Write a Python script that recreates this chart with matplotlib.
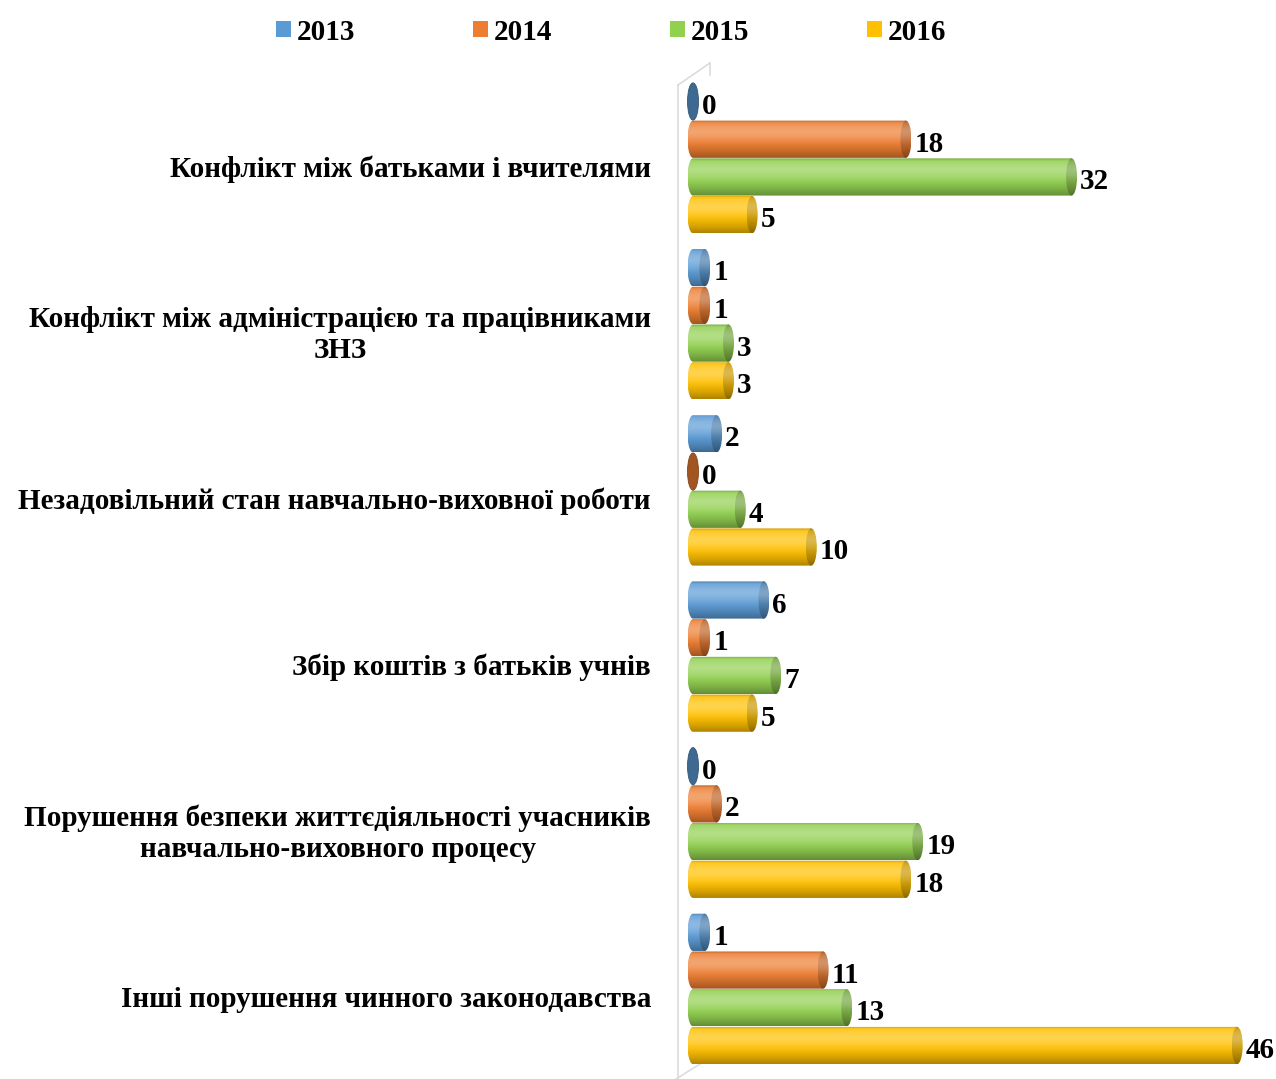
import numpy as np
import matplotlib
matplotlib.use("Agg")
import matplotlib.pyplot as plt
from matplotlib.patches import Ellipse, PathPatch, Rectangle
from matplotlib.path import Path
from matplotlib.lines import Line2D
from matplotlib.colors import to_rgb

plt.rcParams['font.family'] = ['Liberation Serif', 'DejaVu Serif']
plt.rcParams['font.weight'] = 'bold'

categories = [
    "Конфлікт між батьками і вчителями",
    "Конфлікт між адміністрацією та працівниками\nЗНЗ",
    "Незадовільний стан навчально-виховної роботи",
    "Збір коштів з батьків учнів",
    "Порушення безпеки життєдіяльності учасників\nнавчально-виховного процесу",
    "Інші порушення чинного законодавства",
]
years = ["2013", "2014", "2015", "2016"]
v2013 = [0, 1, 2, 6, 0, 1]
v2014 = [18, 1, 0, 1, 2, 11]
v2015 = [32, 3, 4, 7, 19, 13]
v2016 = [5, 3, 10, 5, 18, 46]
series = [v2013, v2014, v2015, v2016]
colors = ["#5b9bd5", "#ed7d31", "#92d050", "#ffc000"]

W, H = 1276, 1079
PX = 11.83          # pixels per unit along the value axis
fig = plt.figure(figsize=(W / 100, H / 100), dpi=100)
ax = fig.add_axes([680 / W, 7 / H, (W - 680) / W, 997 / H])
ax.set_xlim(-13 / PX, (W - 693) / PX)
ax.set_ylim(5.5, -0.5)
ax.axis('off')

pitch = 0.227
bh = 0.224
cap = 5.5 / PX  # half-width of the cylinder end in data units
FS = 21


def shade(c, t):
    """Colour across the cylinder: t=0 top edge, t=1 bottom edge."""
    c = np.array(to_rgb(c))[None, :]
    t = np.asarray(t)[:, None]
    light = np.exp(-((t - 0.3) / 0.25) ** 2) * 0.3
    dark = np.clip((t - 0.5) / 0.5, 0, 1) ** 1.6 * 0.32 + np.clip((0.07 - t) / 0.07, 0, 1) * 0.2
    out = c * (1 - dark) + (1 - c) * light * (1 - dark)
    return np.clip(out, 0, 1)


def cylinder(ax, v, yc, color):
    y0, y1 = yc - bh / 2, yc + bh / 2
    cap_c = np.array(to_rgb(color)) * 0.8
    if v <= 0:
        ax.add_patch(Ellipse((0, yc), 2 * cap, bh, facecolor=cap_c * 0.85,
                             edgecolor=cap_c * 0.7, lw=0.6, zorder=3))
        return
    # outline: rounded back end, straight sides, front end
    th = np.linspace(np.pi / 2, 3 * np.pi / 2, 40)
    left = np.column_stack([cap * np.cos(th), yc - (bh / 2) * np.sin(th)])
    verts = np.vstack([left, [[v, y1], [v, y0]], left[:1]])
    codes = [Path.MOVETO] + [Path.LINETO] * (len(verts) - 2) + [Path.CLOSEPOLY]
    outline = PathPatch(Path(verts, codes), facecolor='none', edgecolor='none')
    ax.add_patch(outline)
    t = np.linspace(0, 1, 80)
    grad = shade(color, t)[:, None, :]
    im = ax.imshow(grad, extent=[-cap, v, y1, y0], aspect='auto',
                   interpolation='bilinear', zorder=2)
    im.set_clip_path(outline)
    # front end of the cylinder
    tc = np.linspace(0, 1, 40)
    capgrad = shade(tuple(cap_c), tc)[:, None, :]
    e = Ellipse((v, yc), 2 * cap, bh, facecolor='none', edgecolor='none')
    ax.add_patch(e)
    im2 = ax.imshow(capgrad, extent=[v - cap, v + cap, y1, y0], aspect='auto',
                    interpolation='bilinear', zorder=3)
    im2.set_clip_path(e)


for gi in range(len(categories)):
    for si, vals in enumerate(series):
        yc = gi + (si - 1.5) * pitch
        v = vals[gi]
        cylinder(ax, v, yc, colors[si])
        ax.annotate(str(v), (v, yc), xytext=(cap * PX + 3, -5),
                    textcoords='offset pixels', ha='left', va='center',
                    fontsize=FS, fontweight='bold', color='black',
                    annotation_clip=False, zorder=5)
    ax.annotate(categories[gi], (0, gi), xytext=(-42, -11),
                textcoords='offset pixels', ha='right', va='center',
                multialignment='center', fontsize=FS, fontweight='bold',
                color='black', annotation_clip=False, linespacing=1.2)

# light 3-D wall behind the bars
wall = '#dcdcdc'
for (xs, ys) in [((678, 678), (85, 1079)), ((710, 710), (63, 75)),
                 ((678, 710), (85, 63)), ((676, 700), (1079, 1064))]:
    fig.add_artist(Line2D([x / W for x in xs], [1 - y / H for y in ys],
                          color=wall, lw=1.2, zorder=0))

# legend
handles = [Rectangle((0, 0), 1, 1, facecolor=c, edgecolor='none') for c in colors]
fig.legend(handles, years, loc='center', bbox_to_anchor=(0.479, 1 - 32 / H),
           ncol=4, frameon=False, handlelength=0.5, handleheight=0.5,
           handletextpad=0.2, columnspacing=4.05, borderpad=0,
           prop={'family': 'Liberation Serif', 'weight': 'bold', 'size': FS})

fig.savefig("out.png", dpi=100, facecolor='white')
